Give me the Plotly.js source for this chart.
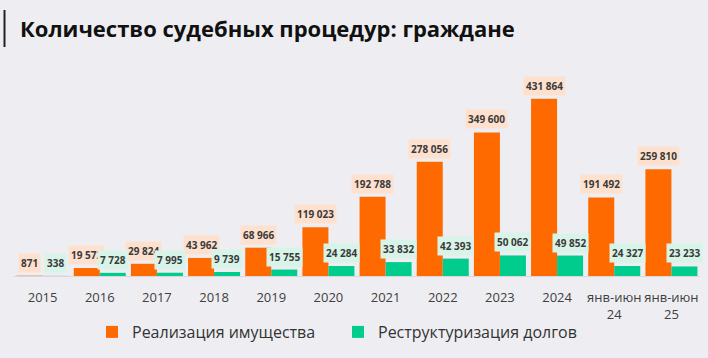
<!DOCTYPE html>
<html><head><meta charset="utf-8">
<script src="https://cdn.plot.ly/plotly-3.0.1.min.js"></script>
<style>html,body{margin:0;padding:0;background:#eeeef2;}#chart{width:708px;height:358px;}</style>
</head><body><div id="chart"></div>
<script>
const categories = ["2015","2016","2017","2018","2019","2020","2021","2022","2023","2024","янв-июн<br>24","янв-июн<br>25"];
const propertySales = [871,19572,29824,43962,68966,119023,192788,278056,349600,431864,191492,259810];
const debtRestructuring = [338,7728,7995,9739,15755,24284,33832,42393,50062,49852,24327,23233];
const seriesNames = ["Реализация имущества","Реструктуризация долгов"];

const ORANGE = "#ff6a00", GREEN = "#00cc8e";
const fmtS = v => String(v).replace(/\B(?=(\d{3})+(?!\d))/g, " ");

const L = 14, R = 8, T = 70, B = 82;
const plotW = 708 - L - R, plotH = 358 - T - B;
const annotations = [];
function addLabels(vals, shift, bg) {
  vals.forEach((v, i) => {
    annotations.push({
      x: i, y: v, xref: "x", yref: "y",
      text: "<b>" + fmtS(v) + "</b>", showarrow: false,
      xanchor: "center", yanchor: "bottom", xshift: shift, yshift: 3,
      bgcolor: bg, borderpad: 2,
      font: {family: "Open Sans, sans-serif", size: 10, color: "#3a3a3a"}
    });
  });
}
addLabels(propertySales, -13, "#fde0cd");
addLabels(debtRestructuring, 13, "#d8f3e8");

const data = [
  {type: "bar", name: seriesNames[0], x: categories, y: propertySales, marker: {color: ORANGE}, hoverinfo: "none"},
  {type: "bar", name: seriesNames[1], x: categories, y: debtRestructuring, marker: {color: GREEN}, hoverinfo: "none"}
];
const layout = {
  width: 708, height: 358,
  paper_bgcolor: "#eeeef2", plot_bgcolor: "rgba(0,0,0,0)",
  margin: {l: L, r: R, t: T, b: B, autoexpand: false},
  barmode: "group", bargap: 0.09, bargroupgap: 0,
  title: {text: "<b>Количество судебных процедур: граждане</b>", x: 20/708, xanchor: "left", y: 1 - 29/358, yanchor: "middle",
          font: {family: "Open Sans, sans-serif", size: 22, color: "#111"}},
  xaxis: {type: "category", range: [-0.5, categories.length - 0.5], autorange: false,
          tickfont: {family: "Open Sans, sans-serif", size: 13, color: "#404040"}, ticklabelstandoff: 9,
          showline: true, linecolor: "#d8d8dc", linewidth: 1, ticks: "", showgrid: false, zeroline: false},
  yaxis: {range: [0, 501800], autorange: false, visible: false, showgrid: false, zeroline: false},
  legend: {orientation: "h", x: (92 - L)/plotW, xanchor: "left", y: (276 - 332)/plotH, yanchor: "middle",
           font: {family: "Open Sans, sans-serif", size: 16, color: "#333"}, traceorder: "normal", entrywidth: 201},
  annotations: annotations,
  shapes: [{type: "line", xref: "paper", yref: "paper", x0: (4.5 - L)/plotW, x1: (4.5 - L)/plotW,
            y0: 1 + (T - 10)/plotH, y1: 1 + (T - 47)/plotH, line: {color: "#222", width: 2}}],
  showlegend: true
};
Plotly.newPlot("chart", data, layout, {displayModeBar: false, staticPlot: true});
</script></body></html>
